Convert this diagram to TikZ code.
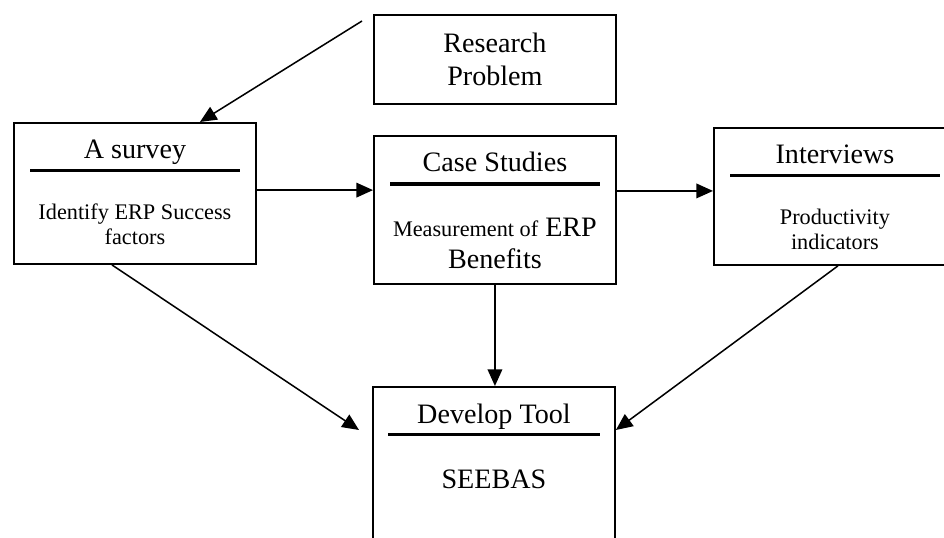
\documentclass[tikz,border=0pt]{standalone}
\usepackage{fontspec}
\setmainfont{Liberation Serif}
\usetikzlibrary{positioning,arrows.meta}

\newcommand{\titlefont}{\fontsize{24}{27.5}\selectfont}
\newcommand{\bodyfont}{\fontsize{19}{21.5}\selectfont}

\begin{document}
\begin{tikzpicture}[
    x=0.03cm, y=-0.03cm,
    stagebox/.style={rectangle, draw, line width=1.6pt, minimum width=7.26cm,
                     inner sep=0pt, anchor=north west},
    heading/.style={font=\titlefont, inner sep=0pt, anchor=base},
    detail/.style={font=\bodyfont, align=center, inner sep=0pt},
    rulebar/.style={line width=2.6pt},
    link/.style={-{Triangle[length=0.5cm, width=0.44cm]}, line width=1.3pt}
]
\useasboundingbox (0,0) rectangle (944,538);
\clip (0,0) rectangle (944,538);

% Boxes
\node[stagebox, minimum height=2.67cm, font=\titlefont, align=center] (problem) at (373,14) {Research\\Problem};
\node[stagebox, minimum height=4.23cm] (survey) at (13,122) {};
\node[stagebox, minimum height=4.44cm] (case) at (373,135) {};
\node[stagebox, minimum height=4.11cm] (interviews) at (713,127) {};
\node[stagebox, minimum height=5.22cm] (develop) at (372,386) {};

% Headings
\node[heading] (surveytitle) at ([yshift=-1.1cm]survey.north) {A survey};
\node[heading] (casetitle) at ([yshift=-1.1cm]case.north) {Case Studies};
\node[heading] (interviewstitle) at ([yshift=-1.1cm]interviews.north) {Interviews};
\node[heading] (developtitle) at ([yshift=-1.11cm]develop.north) {Develop Tool};

% Rules under headings
\draw[rulebar] ([xshift=0.51cm, yshift=-1.45cm]survey.north west) -- ([xshift=-0.51cm, yshift=-1.45cm]survey.north east);
\draw[rulebar] ([xshift=0.51cm, yshift=-1.47cm]case.north west) -- ([xshift=-0.51cm, yshift=-1.47cm]case.north east);
\draw[rulebar] ([xshift=0.51cm, yshift=-1.45cm]interviews.north west) -- ([xshift=-0.51cm, yshift=-1.45cm]interviews.north east);
\draw[rulebar] ([xshift=0.48cm, yshift=-1.45cm]develop.north west) -- ([xshift=-0.48cm, yshift=-1.45cm]develop.north east);

% Details
\node[detail] (surveytext) at ([yshift=-3.06cm]survey.north) {Identify ERP Success\\factors};
\node[detail, font=\titlefont] (casetext) at ([yshift=-3.26cm]case.north) {{\bodyfont Measurement of} ERP\\Benefits};
\node[detail] (interviewstext) at ([yshift=-3.06cm]interviews.north) {Productivity\\indicators};
\node[detail, font=\titlefont] (developtext) at ([yshift=-2.79cm]develop.north) {SEEBAS};

% Connections
\coordinate (feed) at (362,21);
\coordinate (scout) at ([yshift=0.1cm]survey.east);
\coordinate (ciout) at ([yshift=0.57cm]case.east);
\draw[link] (feed) -- ([xshift=1.95cm]survey.north);
\draw[link] (scout) -- (scout -| case.west);
\draw[link] (ciout) -- (ciout -| interviews.west);
\draw[link] (case.south) -- (case.south |- develop.north);
\draw[link] ([xshift=-0.69cm]survey.south) -- ([xshift=-0.39cm, yshift=-1.32cm]develop.north west);
\draw[link] ([xshift=0.09cm]interviews.south) -- ([yshift=-1.32cm]develop.north east);

\end{tikzpicture}
\end{document}
